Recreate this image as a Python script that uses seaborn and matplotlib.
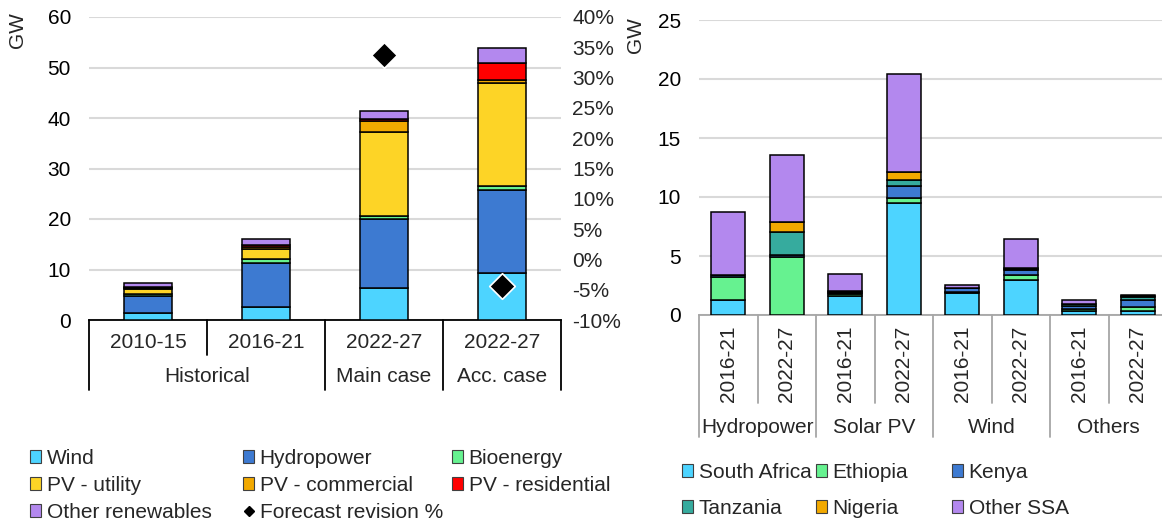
import numpy as np
import matplotlib
matplotlib.use("Agg")
import matplotlib.pyplot as plt
from matplotlib.patches import Patch
from matplotlib.lines import Line2D
import seaborn as sns

# --- left panel: capacity additions by technology (GW) ---
periods = ["2010-15", "2016-21", "2022-27", "2022-27"]
period_groups = ["Historical", "Main case", "Acc. case"]
group_sizes = [2, 1, 1]

wind = [1.4, 2.5, 6.4, 9.4]
hydropower = [3.3, 8.7, 13.6, 16.3]
bioenergy = [0.4, 0.8, 0.6, 0.9]
pv_utility = [1.1, 2.1, 16.6, 20.4]
pv_commercial = [0.2, 0.4, 2.3, 0.6]
pv_residential = [0.1, 0.4, 0.4, 3.3]
other_renewables = [0.9, 1.2, 1.5, 2.9]
forecast_revision = [np.nan, np.nan, 33.8, -4.4]

# --- right panel: additions by country and technology (GW) ---
tech_periods = ["2016-21", "2022-27"] * 4
tech_groups = ["Hydropower", "Solar PV", "Wind", "Others"]

south_africa = [1.3, 0.0, 1.65, 9.5, 1.9, 3.0, 0.35, 0.35]
ethiopia = [1.95, 4.9, 0.1, 0.45, 0.05, 0.35, 0.2, 0.3]
kenya = [0.1, 0.15, 0.15, 0.95, 0.3, 0.45, 0.25, 0.6]
tanzania = [0.0, 2.0, 0.05, 0.5, 0.05, 0.1, 0.1, 0.3]
nigeria = [0.0, 0.8, 0.05, 0.7, 0.0, 0.05, 0.0, 0.05]
other_ssa = [5.35, 5.75, 1.45, 8.3, 0.25, 2.5, 0.4, 0.1]

CYAN, BLUE, GREEN = "#4DD4FF", "#3D7AD1", "#66F290"
YELLOW, ORANGE, RED = "#FDD426", "#F2A900", "#FF0000"
PURPLE, TEAL = "#B388EE", "#36AB9E"
FS = 15

sns.set_theme(style="white")
plt.rcParams["font.family"] = ["Liberation Sans", "DejaVu Sans"]
plt.rcParams["font.size"] = FS

W, H = 1162, 523
fig = plt.figure(figsize=(W / 100, H / 100), dpi=100)


def px_axes(left, top, right, bottom):
    return fig.add_axes([left / W, 1 - bottom / H, (right - left) / W, (bottom - top) / H])


def stack(ax, series, width):
    x = np.arange(len(series[0][1]))
    bottom = np.zeros(len(x))
    for name, vals, col in series:
        ax.bar(x, vals, width, bottom=bottom, color=col, edgecolor="black",
               linewidth=1.1, label=name, zorder=3)
        bottom += np.array(vals)


def style_axis(ax, spine_color):
    for s in ["left", "right", "top"]:
        ax.spines[s].set_visible(False)
    ax.spines["bottom"].set_color(spine_color)
    ax.spines["bottom"].set_linewidth(1.3)
    ax.yaxis.grid(True, color="#D9D9D9", linewidth=1.5, zorder=0)
    ax.set_axisbelow(True)
    ax.set_xticks([])
    ax.tick_params(axis="y", length=0, pad=13, labelsize=FS, colors="black")


def category_labels(ax, labels, groups, sizes, color, rotated, y_lab, y_grp, y_in, y_out):
    tr = ax.get_xaxis_transform()
    for i, lab in enumerate(labels):
        if rotated:
            ax.text(i, y_lab, lab, transform=tr, rotation=90, ha="center", va="top", fontsize=FS)
        else:
            ax.text(i, y_lab, lab, transform=tr, ha="center", va="center", fontsize=FS)
    edges = np.concatenate([[0], np.cumsum(sizes)]) - 0.5
    for g, lab in enumerate(groups):
        ax.text((edges[g] + edges[g + 1]) / 2, y_grp, lab, transform=tr,
                ha="center", va="center", fontsize=FS)
    for b in np.arange(len(labels) + 1) - 0.5:
        depth = y_out if np.isclose(edges, b).any() else y_in
        ax.plot([b, b], [0, depth], transform=tr, color=color, lw=1.3, clip_on=False)


# ---------- left chart ----------
ax1 = px_axes(89, 17, 561, 320)
stack(ax1, [
    ("Wind", wind, CYAN),
    ("Hydropower", hydropower, BLUE),
    ("Bioenergy", bioenergy, GREEN),
    ("PV - utility", pv_utility, YELLOW),
    ("PV - commercial", pv_commercial, ORANGE),
    ("PV - residential", pv_residential, RED),
    ("Other renewables", other_renewables, PURPLE),
], 0.4)
ax1.set_xlim(-0.5, 3.5)
ax1.set_ylim(0, 60)
ax1.set_yticks(range(0, 61, 10))
style_axis(ax1, "black")
category_labels(ax1, periods, period_groups, group_sizes, "black", False,
                -0.073, -0.188, -0.116, -0.231)

ax1b = ax1.twinx()
ax1b.set_ylim(-10, 40)
ax1b.set_yticks(range(-10, 41, 5))
ax1b.set_yticklabels([f"{v}%" for v in range(-10, 41, 5)])
for s in ax1b.spines.values():
    s.set_visible(False)
ax1b.tick_params(axis="y", length=0, pad=8, labelsize=FS)
ax1b.grid(False)
sns.scatterplot(x=np.arange(len(periods)), y=forecast_revision, ax=ax1b, marker="D",
                s=170, color="black", edgecolor="white", linewidth=1.2, zorder=6, legend=False)
ax1b.set_xlim(-0.5, 3.5)

# ---------- right chart ----------
ax2 = px_axes(699, 20, 1167, 315)
stack(ax2, [
    ("South Africa", south_africa, CYAN),
    ("Ethiopia", ethiopia, GREEN),
    ("Kenya", kenya, BLUE),
    ("Tanzania", tanzania, TEAL),
    ("Nigeria", nigeria, ORANGE),
    ("Other SSA", other_ssa, PURPLE),
], 0.58)
ax2.set_xlim(-0.5, 7.5)
ax2.set_ylim(0, 25)
ax2.set_yticks(range(0, 26, 5))
style_axis(ax2, "#A6A6A6")
category_labels(ax2, tech_periods, tech_groups, [2, 2, 2, 2], "#A6A6A6", True,
                -0.035, -0.38, -0.298, -0.414)

fig.text(18 / W, 1 - 30 / H, "GW", rotation=90, ha="center", va="center", fontsize=FS)
fig.text(636 / W, 1 - 35 / H, "GW", rotation=90, ha="center", va="center", fontsize=FS)


# ---------- legends ----------
def patch(c):
    return Patch(facecolor=c, edgecolor="#404040", linewidth=0.8)


def column_legend(handles, labels, x, y, spacing):
    fig.legend(handles, labels, loc="upper left", bbox_to_anchor=(x / W, 1 - y / H),
               frameon=False, borderpad=0, borderaxespad=0, handlelength=0.55,
               handleheight=0.55, handletextpad=0.25, labelspacing=spacing, fontsize=FS)


diamond = Line2D([], [], marker="D", color="black", linestyle="none", markersize=5)
column_legend([patch(CYAN), patch(YELLOW), patch(PURPLE)],
              ["Wind", "PV - utility", "Other renewables"], 30, 449, 0.38)
column_legend([patch(BLUE), patch(ORANGE), diamond],
              ["Hydropower", "PV - commercial", "Forecast revision %"], 243, 449, 0.38)
column_legend([patch(GREEN), patch(RED)],
              ["Bioenergy", "PV - residential"], 452, 449, 0.38)

column_legend([patch(CYAN), patch(TEAL)], ["South Africa", "Tanzania"], 682, 463, 0.82)
column_legend([patch(GREEN), patch(ORANGE)], ["Ethiopia", "Nigeria"], 816, 463, 0.82)
column_legend([patch(BLUE), patch(PURPLE)], ["Kenya", "Other SSA"], 952, 463, 0.82)

fig.savefig("out.png", dpi=100)
